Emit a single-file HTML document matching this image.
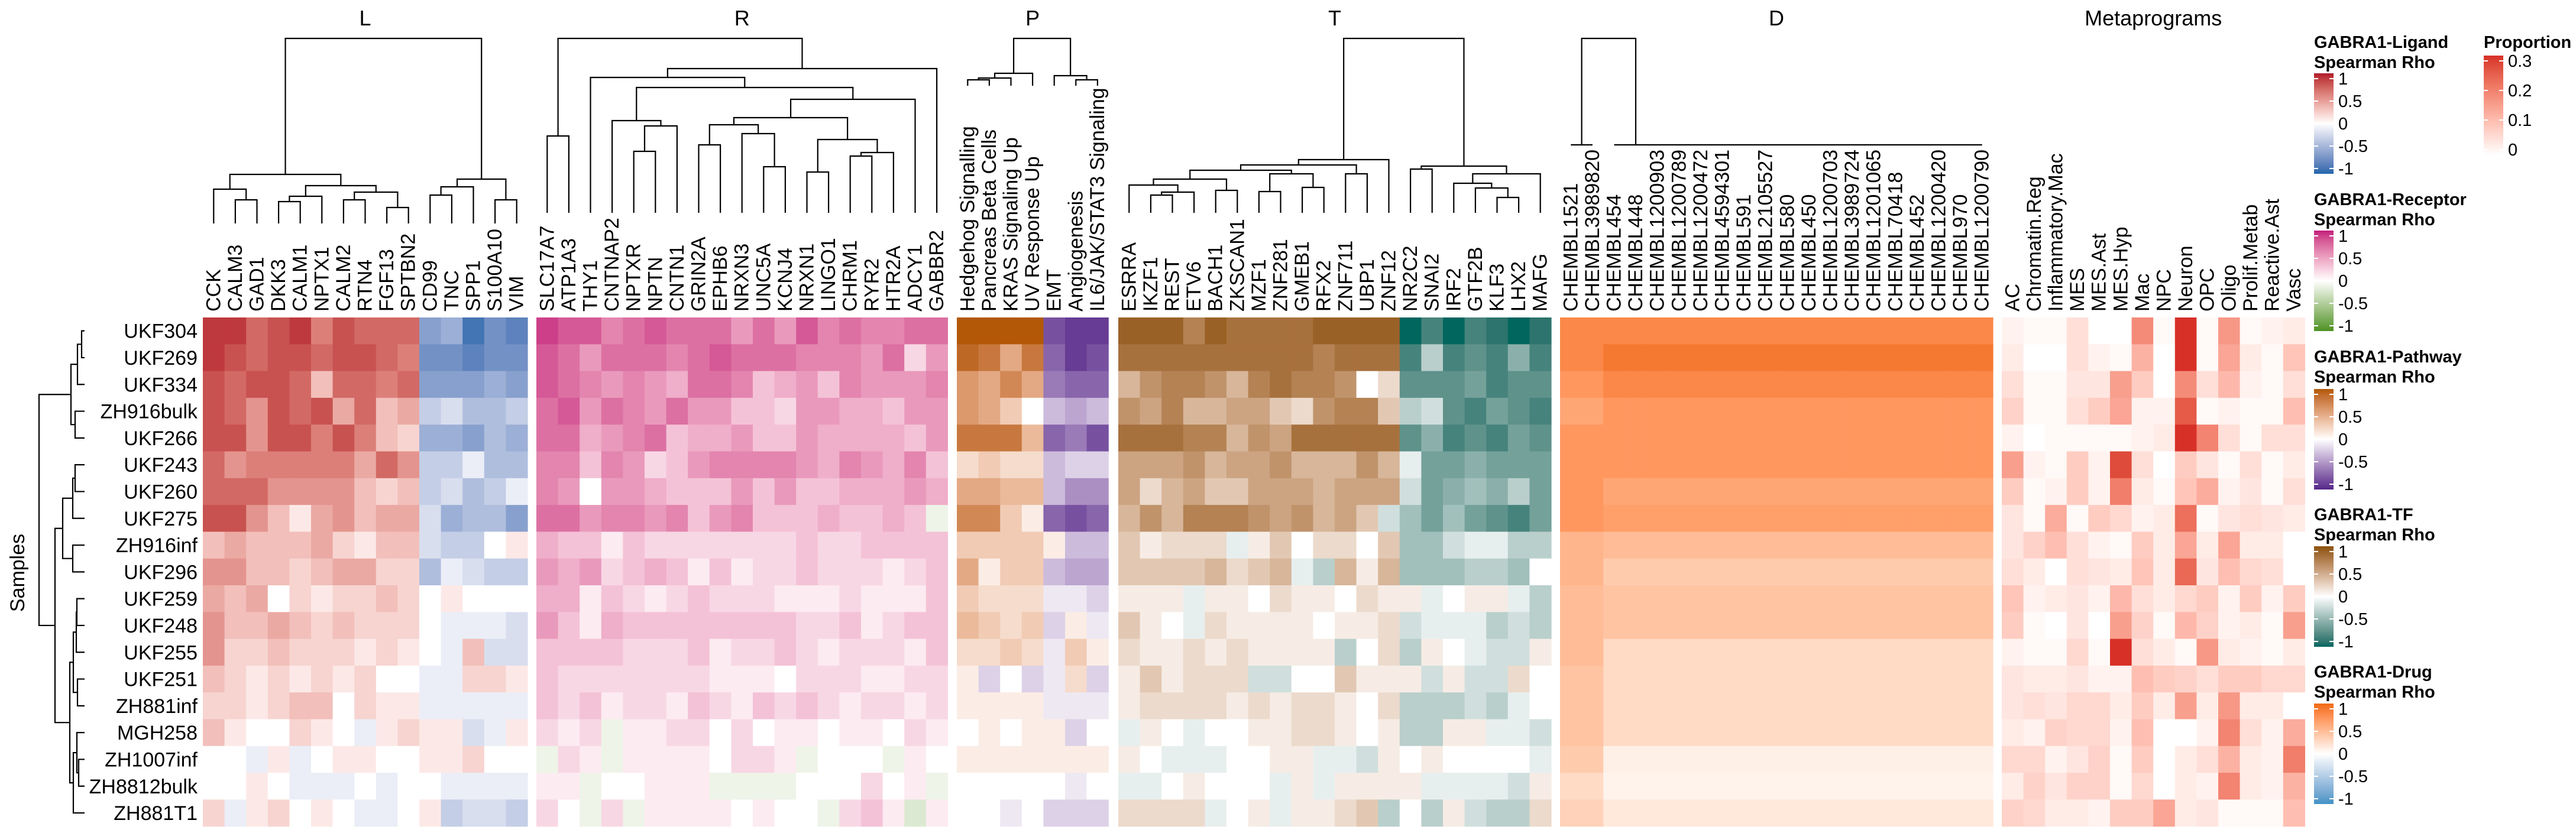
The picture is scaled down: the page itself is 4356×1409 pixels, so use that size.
<!DOCTYPE html>
<html><head><meta charset="utf-8"><style>
html,body{margin:0;padding:0;background:#fff;}
svg text{font-family:"Liberation Sans",Arial,sans-serif;fill:#000;}
</style></head><body>
<svg id="chart" xmlns="http://www.w3.org/2000/svg" width="4356" height="1404" viewBox="0 0 4356 1404"></svg>
<script>
const rowNames=["UKF304","UKF269","UKF334","ZH916bulk","UKF266","UKF243","UKF260","UKF275","ZH916inf","UKF296","UKF259","UKF248","UKF255","UKF251","ZH881inf","MGH258","ZH1007inf","ZH8812bulk","ZH881T1"];
const ligandCols=["CCK","CALM3","GAD1","DKK3","CALM1","NPTX1","CALM2","RTN4","FGF13","SPTBN2","CD99","TNC","SPP1","S100A10","VIM"];
const receptorCols=["SLC17A7","ATP1A3","THY1","CNTNAP2","NPTXR","NPTN","CNTN1","GRIN2A","EPHB6","NRXN3","UNC5A","KCNJ4","NRXN1","LINGO1","CHRM1","RYR2","HTR2A","ADCY1","GABBR2"];
const pathwayCols=["Hedgehog Signalling","Pancreas Beta Cells","KRAS Signaling Up","UV Response Up","EMT","Angiogenesis","IL6/JAK/STAT3 Signaling"];
const tfCols=["ESRRA","IKZF1","REST","ETV6","BACH1","ZKSCAN1","MZF1","ZNF281","GMEB1","RFX2","ZNF711","UBP1","ZNF12","NR2C2","SNAI2","IRF2","GTF2B","KLF3","LHX2","MAFG"];
const drugCols=["CHEMBL1521","CHEMBL3989820","CHEMBL454","CHEMBL448","CHEMBL1200903","CHEMBL1200789","CHEMBL1200472","CHEMBL4594301","CHEMBL591","CHEMBL2105527","CHEMBL580","CHEMBL450","CHEMBL1200703","CHEMBL3989724","CHEMBL1201065","CHEMBL70418","CHEMBL452","CHEMBL1200420","CHEMBL970","CHEMBL1200790"];
const metaCols=["AC","Chromatin.Reg","Inflammatory.Mac","MES","MES.Ast","MES.Hyp","Mac","NPC","Neuron","OPC","Oligo","Prolif.Metab","Reactive.Ast","Vasc"];
// rho in tenths
const ligandVals=[
[9,9,7,8,9,6,8,7,7,7,-6,-5,-9,-7,-8],[9,8,7,8,8,7,8,8,7,6,-7,-7,-8,-7,-7],[8,7,8,8,7,3,7,7,6,7,-6,-6,-6,-5,-6],
[8,7,5,8,7,8,4,7,3,4,-3,-2,-4,-4,-3],[8,8,5,8,8,6,8,6,3,2,-5,-5,-6,-4,-5],[7,5,6,6,6,6,6,4,7,5,-3,-3,-1,-4,-4],
[7,7,7,5,5,5,5,3,2,3,-3,-2,-4,-3,-1],[8,8,5,3,1,4,5,3,4,4,-2,-5,-4,-4,-6],[3,4,3,3,3,4,2,1,3,3,-2,-3,-3,0,1],
[5,5,3,3,2,3,4,4,2,2,-4,-1,-2,-3,-3],[4,3,4,0,2,1,2,2,3,2,0,1,0,0,0],[5,3,3,4,3,2,3,2,2,2,0,-1,-1,-1,-2],
[5,2,2,3,2,2,2,1,2,1,0,-1,3,-2,-2],[3,2,1,2,1,2,1,2,0,0,-1,-1,2,2,1],[2,2,1,2,3,3,0,2,1,1,-1,-1,-1,-1,-1],
[3,1,0,0,2,1,0,-1,1,2,1,1,-2,-1,1],[0,0,-1,1,-1,0,1,1,0,0,1,1,2,0,0],[0,0,1,0,-1,-1,-1,0,-1,0,0,-1,-1,-1,-1],
[2,-1,1,2,0,1,0,-1,-1,0,1,-3,-2,-2,-3]];
const receptorVals=[
[9,8,8,6,7,8,7,7,7,5,7,5,8,6,7,6,6,7,7],[8,7,5,7,7,7,6,7,8,7,7,7,6,6,6,5,7,2,5],[8,7,6,5,6,5,4,7,7,6,3,4,5,3,6,5,5,5,6],
[7,8,5,7,6,5,7,5,5,3,3,2,5,5,4,4,3,5,5],[7,7,4,5,6,7,3,4,4,5,3,3,5,4,4,4,4,3,5],[6,6,3,6,5,2,3,5,6,6,6,6,5,4,6,5,4,6,3],
[6,5,0,5,5,4,3,3,3,5,3,5,3,3,4,4,4,5,4],[7,7,5,6,6,5,6,3,5,6,3,3,3,4,3,3,4,3,-1],[4,3,3,1,3,2,2,2,2,2,2,2,3,2,2,3,3,3,3],
[5,4,5,2,3,4,3,1,3,1,2,2,3,2,2,2,1,2,3],[4,4,1,3,2,1,2,3,2,2,2,1,1,1,2,1,1,1,3],[5,3,1,4,3,3,3,3,3,3,3,3,2,2,3,1,2,3,3],
[3,3,3,3,2,2,2,3,1,2,2,3,2,1,2,2,2,1,3],[3,2,2,2,2,2,2,2,1,1,1,0,2,2,2,1,1,2,2],[3,2,3,1,2,2,1,3,2,1,3,2,3,2,1,2,2,1,2],
[2,1,2,-1,1,1,2,2,0,2,0,1,1,0,1,1,0,2,1],[-1,2,1,-1,1,1,1,1,0,2,2,1,-1,0,0,0,-1,1,0],[1,1,-1,0,0,1,1,1,-1,-1,-1,-1,0,0,0,2,0,1,-1],
[2,0,-1,2,-1,1,1,1,1,0,1,0,0,-1,2,3,1,-2,1]];
const pathwayVals=[
[10,10,10,10,-8,-9,-9],[9,8,5,8,-7,-9,-8],[6,5,7,5,-6,-7,-7],[6,5,3,0,-3,-4,-3],[8,8,8,4,-7,-6,-8],[2,3,2,2,-3,-2,-2],
[5,5,4,4,-3,-5,-5],[7,7,3,1,-7,-8,-7],[3,3,3,3,1,-3,-3],[5,1,3,3,-3,-4,-4],[3,2,2,2,-1,-1,-2],[4,3,2,3,-2,1,-1],
[2,2,3,2,-1,3,1],[1,-2,0,-2,-1,2,-2],[1,1,1,1,-1,-1,-1],[0,1,0,1,1,-2,0],[1,1,1,1,1,1,1],[0,0,0,0,0,-1,0],[0,0,-1,0,-2,-2,-2]];
const tfVals=[
[9,9,9,7,9,8,8,8,8,9,9,9,9,-10,-8,-10,-8,-9,-10,-9],[8,8,8,8,8,8,8,8,8,7,8,8,8,-8,-3,-8,-7,-8,-5,-8],
[4,6,7,7,6,4,7,8,7,7,6,0,2,-7,-7,-7,-6,-8,-7,-7],[6,5,7,4,4,5,5,3,2,6,7,7,3,-3,-2,-7,-8,-6,-7,-8],
[8,8,8,7,7,4,6,5,8,8,8,8,8,-7,-5,-8,-7,-8,-6,-7],[5,5,5,6,4,5,5,6,4,4,4,6,4,-1,-6,-6,-5,-6,-6,-6],
[5,2,4,5,3,3,5,5,5,4,5,5,5,-2,-6,-5,-4,-5,-3,-6],[4,6,4,7,7,7,6,5,6,4,5,3,-2,-4,-6,-4,-6,-7,-8,-6],
[3,1,2,2,2,-1,1,3,0,2,2,0,3,-4,-4,-2,-1,-1,-3,-3],[3,3,3,3,4,2,3,4,-1,-3,4,1,4,-4,-4,-4,-3,-3,-4,0],
[1,1,1,-1,1,1,0,2,1,1,0,2,1,1,-1,0,1,1,-1,-3],[3,1,0,-1,2,1,1,1,1,0,1,1,2,-2,-1,-1,-1,-3,-2,-3],
[2,1,1,2,1,2,1,1,1,1,-3,0,2,-3,1,0,-1,-2,-2,1],[1,3,1,2,2,2,-2,-2,0,0,3,1,1,1,-2,1,-2,-2,2,0],
[1,2,2,2,2,1,2,1,2,2,1,0,2,-3,-3,-3,-2,-3,-1,0],[-1,1,0,-1,0,0,1,1,2,2,1,0,1,-3,-3,1,1,-1,-1,-2],
[1,0,-1,-1,-1,0,0,1,1,-1,-1,-2,1,0,1,0,0,0,0,-1],[-1,-1,0,1,0,0,0,-1,1,-1,1,1,1,1,-1,-1,-1,-1,-2,1],
[2,2,2,2,-1,0,1,-1,1,1,2,3,-3,0,-3,1,-2,-3,-3,2]];
const drugVals=[
[8,8,8,8,8,8,8,8,8,8,8,8,8,8,8,8,8,8,8,8],[8,8,9,9,9,9,9,9,9,9,9,9,9,9,9,9,9,9,9,9],[7,7,8,8,8,8,8,8,8,8,8,8,8,8,8,8,8,8,8,8],
[6,6,7,7,7,7,7,7,7,7,7,7,7,7,7,7,7,7,7,7],[7,7,7,7,7,7,7,7,7,7,7,7,7,7,7,7,7,7,7,7],[7,7,7,7,7,7,7,7,7,7,7,7,7,7,7,7,7,7,7,7],
[7,7,6,6,6,6,6,6,6,6,6,6,6,6,6,6,6,6,6,6],[7,7,6.5,6.5,6.5,6.5,6.5,6.5,6.5,6.5,6.5,6.5,6.5,6.5,6.5,6.5,6.5,6.5,6.5,6.5],[5,5,4.5,4.5,4.5,4.5,4.5,4.5,4.5,4.5,4.5,4.5,4.5,4.5,4.5,4.5,4.5,4.5,4.5,4.5],
[5,5,3.5,3.5,3.5,3.5,3.5,3.5,3.5,3.5,3.5,3.5,3.5,3.5,3.5,3.5,3.5,3.5,3.5,3.5],[4.5,4.5,4,4,4,4,4,4,4,4,4,4,4,4,4,4,4,4,4,4],[4.5,4.5,4,4,4,4,4,4,4,4,4,4,4,4,4,4,4,4,4,4],
[4.5,4.5,2.5,2.5,2.5,2.5,2.5,2.5,2.5,2.5,2.5,2.5,2.5,2.5,2.5,2.5,2.5,2.5,2.5,2.5],[4,4,2.5,2.5,2.5,2.5,2.5,2.5,2.5,2.5,2.5,2.5,2.5,2.5,2.5,2.5,2.5,2.5,2.5,2.5],[4,4,2.5,2.5,2.5,2.5,2.5,2.5,2.5,2.5,2.5,2.5,2.5,2.5,2.5,2.5,2.5,2.5,2.5,2.5],
[4,4,2.5,2.5,2.5,2.5,2.5,2.5,2.5,2.5,2.5,2.5,2.5,2.5,2.5,2.5,2.5,2.5,2.5,2.5],[3.5,3.5,1,1,1,1,1,1,1,1,1,1,1,1,1,1,1,1,1,1],[2.5,2.5,0.8,0.8,0.8,0.8,0.8,0.8,0.8,0.8,0.8,0.8,0.8,0.8,0.8,0.8,0.8,0.8,0.8,0.8],
[3,3,1.5,1.5,1.5,1.5,1.5,1.5,1.5,1.5,1.5,1.5,1.5,1.5,1.5,1.5,1.5,1.5,1.5,1.5]];
// proportion in hundredths
const metaVals=[
[2,1,1,5,0,0,18,1,30,1,16,1,2,3],[3,0,0,5,2,1,12,0,30,1,14,3,1,9],[5,1,1,4,4,15,8,0,18,5,11,2,1,5],
[7,1,1,5,8,14,2,2,25,1,2,1,1,10],[2,0,1,1,1,1,2,3,30,19,5,1,5,5],[15,2,1,8,2,27,5,0,8,4,1,5,1,3],
[8,1,2,8,2,20,3,1,9,13,2,4,1,5],[4,1,13,1,8,6,2,3,22,1,4,5,4,3],[4,7,10,5,2,1,8,3,14,3,14,3,3,0],
[5,3,0,5,4,3,9,3,23,4,10,6,5,0],[9,2,3,4,2,11,5,3,6,8,2,8,2,8],[8,1,0,4,0,15,7,1,11,7,2,3,1,15],
[2,1,1,6,1,30,5,3,1,16,3,2,1,3],[4,3,3,4,2,2,10,8,7,5,8,8,6,6],[4,5,4,6,6,3,8,3,15,3,16,3,3,0],
[3,2,7,6,6,2,10,0,0,2,19,5,2,13],[6,6,2,4,7,1,8,0,3,5,12,3,2,20],[3,7,4,7,7,1,6,0,3,2,19,3,2,12],
[7,6,3,3,2,8,8,14,3,4,1,1,1,10]];
const legendTicks=[1,0.5,0,-0.5,-1];
const propTicks=[0.3,0.2,0.1,0];

const NS="http://www.w3.org/2000/svg";
const svg=document.getElementById('chart');
function el(tag,attrs,parent){const e=document.createElementNS(NS,tag);for(const k in attrs)e.setAttribute(k,attrs[k]);(parent||svg).appendChild(e);return e;}
// Lab interpolation
function hex2rgb(h){return [1,3,5].map(i=>parseInt(h.substr(i,2),16));}
function lin(c){c/=255;return c<=0.04045?c/12.92:Math.pow((c+0.055)/1.055,2.4);}
function unlin(c){c=c<=0.0031308?12.92*c:1.055*Math.pow(c,1/2.4)-0.055;return Math.max(0,Math.min(255,Math.round(c*255)));}
function rgb2lab(rgb){const [r,g,b]=rgb.map(lin);let X=(r*0.4124+g*0.3576+b*0.1805)/0.95047,Y=r*0.2126+g*0.7152+b*0.0722,Z=(r*0.0193+g*0.1192+b*0.9505)/1.08883;
const f=t=>t>0.008856?Math.cbrt(t):7.787*t+16/116;const fx=f(X),fy=f(Y),fz=f(Z);return [116*fy-16,500*(fx-fy),200*(fy-fz)];}
function lab2rgb(l){const fy=(l[0]+16)/116,fx=fy+l[1]/500,fz=fy-l[2]/200;const g=t=>t*t*t>0.008856?t*t*t:(t-16/116)/7.787;
const X=g(fx)*0.95047,Y=g(fy),Z=g(fz)*1.08883;const r=X*3.2406+Y*-1.5372+Z*-0.4986,gg=X*-0.9689+Y*1.8758+Z*0.0415,b=X*0.0557+Y*-0.2040+Z*1.0570;
return 'rgb('+unlin(r)+','+unlin(gg)+','+unlin(b)+')';}
function scale(stops){const labs=stops.map(s=>[s[0],rgb2lab(hex2rgb(s[1]))]);return v=>{v=Math.max(labs[0][0],Math.min(labs[labs.length-1][0],v));
for(let i=0;i<labs.length-1;i++){const a=labs[i],b=labs[i+1];if(v<=b[0]){const t=(v-a[0])/(b[0]-a[0]);return lab2rgb([0,1,2].map(k=>a[1][k]+(b[1][k]-a[1][k])*t));}}return lab2rgb(labs[labs.length-1][1]);};}
const sLig=scale([[-1,'#2166AC'],[0,'#FFFFFF'],[1,'#B2182B']]);
const sRec=scale([[-1,'#4D9221'],[0,'#FFFFFF'],[1,'#C51B7D']]);
const sPath=scale([[-1,'#542788'],[0,'#FFFFFF'],[1,'#B35806']]);
const sTF=scale([[-1,'#01665E'],[0,'#FFFFFF'],[1,'#8C510A']]);
const sDrug=scale([[-1,'#4292C6'],[0,'#FFFFFF'],[1,'#F16913']]);
const sProp=scale([[0,'#FFFFFF'],[0.3,'#D73027']]);

const CW=36.6, TOP=537, RH=45.3;
const yRow=i=>TOP+RH*i;
const blocks=[
 {name:'ligand',title:'L',x0:343,cols:ligandCols,vals:ligandVals,div:10,sc:sLig,tip:378},
 {name:'receptor',title:'R',x0:907,cols:receptorCols,vals:receptorVals,div:10,sc:sRec,tip:360},
 {name:'pathway',title:'P',x0:1618,cols:pathwayCols,vals:pathwayVals,div:10,sc:sPath,tip:145},
 {name:'tf',title:'T',x0:1891,cols:tfCols,vals:tfVals,div:10,sc:sTF,tip:360},
 {name:'drug',title:'D',x0:2638,cols:drugCols,vals:drugVals,div:10,sc:sDrug,tip:245},
 {name:'metaprogram',title:'Metaprograms',x0:3385,cols:metaCols,vals:metaVals,div:100,sc:sProp,tip:null}
];
blocks.forEach(b=>{
 const g=el('g',{});
 
 
 const xc=i=>b.x0+CW*i;
 b.vals.forEach((row,r)=>row.forEach((v,c)=>{
  const rc=el('rect',{x:xc(c).toFixed(2),y:yRow(r).toFixed(2),width:(CW+0.6).toFixed(2),height:(RH+0.6).toFixed(2),fill:b.sc(v/b.div)},g);
  
  
 }));
 b.cols.forEach((lab,c)=>{
  const x=xc(c)+CW/2;
  const t=el('text',{x:x,y:527,'font-size':34,'dominant-baseline':'central',transform:'rotate(-90 '+x+' 527)'},g);
  t.textContent=lab;
  
  
 });
 const tt=el('text',{x:b.x0+CW*b.cols.length/2,y:43,'font-size':36,'text-anchor':'middle'},g);
 tt.textContent=b.title;
 
 
});
rowNames.forEach((n,r)=>{
 const t=el('text',{x:334,y:yRow(r)+RH/2+12,'font-size':34,'text-anchor':'end'});
 t.textContent=n;
 
 
});
const st=el('text',{x:41,y:969,'font-size':34,'text-anchor':'middle',transform:'rotate(-90 41 969)'});
st.textContent='Samples';



// dendrograms
const dg=el('g',{stroke:'#000','stroke-width':2.2,fill:'none'});


function colTree(node,x0,tip){
 if(typeof node==='number')return {x:x0+CW*(node+0.5),y:tip};
 const a=colTree(node[0],x0,tip),b=colTree(node[1],x0,tip),h=node[2];
 el('path',{d:`M${a.x},${a.y}V${h}H${b.x}V${b.y}`},dg);
 return {x:(a.x+b.x)/2,y:h};
}
const Ltree=[[[0,[1,2,338],320],[[[3,4,341],5,332],[[6,7,338],[8,9,351],325],314],295],[[[10,11,330],12,316],[13,14,338],303],65];
const Rtree=[[0,1,230],[[2,[[3,[[4,5,256],6,213],204],[[[[7,8,245],[9,[10,11,282],226],211],[[12,13,291],[[14,15,264],16,258],236],199],17,168],148],131],18,116],65];
const Ptree=[[[[0,1,135],2,132],3,124],[4,[5,6,135],128],65];
const Ttree=[[[[[[0,[[1,2,330],3,325],313],[4,5,322],303],[[6,7,324],[8,9,317],294],288],[10,11,294],279],12,270],[[13,14,286],[[15,[16,[17,18,334],318],310],19,294],281],65];
colTree(Ltree,343,378);colTree(Rtree,907,360);colTree(Ptree,1618,145);colTree(Ttree,1891,360);
// drug dendrogram (flat leaves)
(function(){const x0=2638,c=i=>x0+CW*(i+0.5);
 el('path',{d:`M${c(0)},245H${c(1)}M${(c(0)+c(1))/2},245V65H2766V245M${c(2)},245H${c(19)}`},dg);})();
// row dendrogram
function rowTree(node){
 if(typeof node==='number')return {y:yRow(node)+RH/2,x:143};
 const a=rowTree(node[0]),b=rowTree(node[1]),h=node[2];
 el('path',{d:`M${a.x},${a.y}H${h}V${b.y}H${b.x}`},dg);
 return {y:(a.y+b.y)/2,x:h};
}
const rowDend=[[[[0,1,138],2,131],[3,4,127],120],[[[[5,6,127],7,123],[8,9,123],106],[[[[10,11,130],12,129],[13,14,131],124],[[15,[16,17,133],130],18,124],118],93],66];
rowTree(rowDend);

// legends
const defs=el('defs',{});
function legend(id,title,sc,vmin,vmax,ticks,x,ty,by,bh){
 const g=el('g',{});
 
 
 title.forEach((l,i)=>{const t=el('text',{x:x,y:ty+i*34,'font-size':29,'font-weight':'bold'},g);t.textContent=l;
  
  });
 const gr=el('linearGradient',{id:'g'+id,x1:0,y1:0,x2:0,y2:1},defs);
 for(let i=0;i<=20;i++){const v=vmax-(vmax-vmin)*i/20;el('stop',{offset:(i/20),'stop-color':sc(v)},gr);}
 const bar=el('rect',{x:x,y:by,width:33,height:bh,fill:'url(#g'+id+')'},g);
 
 
 const pad=9;
 ticks.forEach(v=>{const y=by+pad+(vmax-v)/(vmax-vmin)*(bh-2*pad);
  el('path',{d:`M${x},${y}h7M${x+26},${y}h7`,stroke:'#fff','stroke-width':2},g);
  const t=el('text',{x:x+41,y:y+10,'font-size':29},g);t.textContent=String(v);
  
  });
}
legend('ligand',['GABRA1-Ligand','Spearman Rho'],sLig,-1,1,legendTicks,3913,81,124,170);
legend('receptor',['GABRA1-Receptor','Spearman Rho'],sRec,-1,1,legendTicks,3913,347,390,170);
legend('pathway',['GABRA1-Pathway','Spearman Rho'],sPath,-1,1,legendTicks,3913,613,658,170);
legend('tf',['GABRA1-TF','Spearman Rho'],sTF,-1,1,legendTicks,3913,880,924,170);
legend('drug',['GABRA1-Drug','Spearman Rho'],sDrug,-1,1,legendTicks,3913,1146,1190,170);
legend('proportion',['Proportion'],sProp,0,0.3,propTicks,4200,81,94,168);
</script>
</body></html>
